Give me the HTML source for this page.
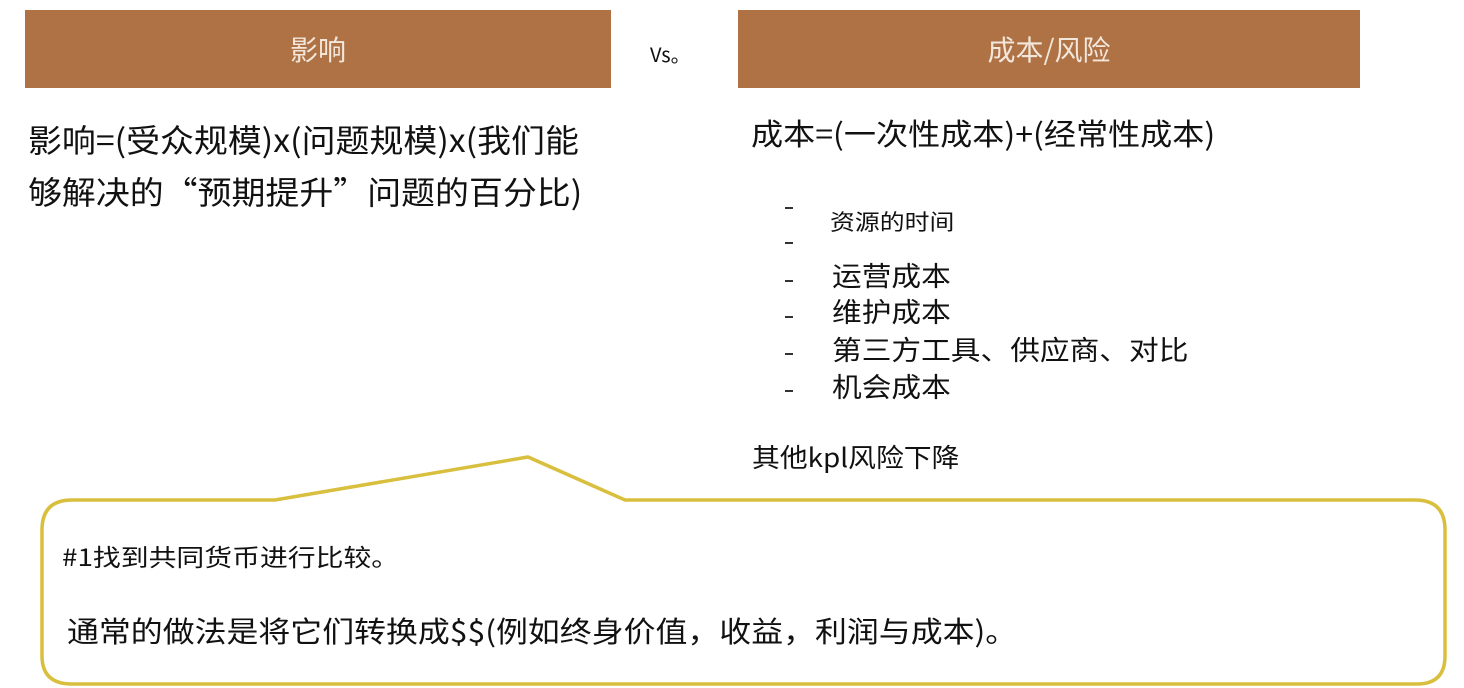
<!DOCTYPE html>
<html><head><meta charset="utf-8"><style>
body{margin:0;width:1464px;height:688px;background:#fff;position:relative;overflow:hidden;font-family:"Noto Sans CJK SC","Liberation Sans",sans-serif;color:#111}
.t{position:absolute;white-space:nowrap;line-height:1.2;transform-origin:left center}
.bar{position:absolute;background:#AE7245;color:#f3e6da;font-size:28px;display:flex;align-items:center;justify-content:center}
.d{position:absolute;width:8px;height:2px;background:#333}
</style></head><body>
<div class="bar" style="left:25px;top:10px;width:586px;height:78px">影响</div>
<div class="bar" style="left:738px;top:10px;width:622px;height:78px">成本/风险</div>
<div class="t" style="left:650px;top:42px;font-size:20px">Vs。</div>
<div class="t" style="left:28px;top:113px;font-size:32px;line-height:52px;transform:scaleX(1.06)">影响=(受众规模)x(问题规模)x(我们能<br>够解决的“预期提升”问题的百分比)</div>
<div class="t" style="left:751px;top:114px;font-size:30px;transform:scaleX(1.07)">成本=(一次性成本)+(经常性成本)</div>
<div class="d" style="left:785px;top:207px"></div>
<div class="d" style="left:785px;top:242px"></div>
<div class="t" style="left:830px;top:208px;font-size:22px;transform:scaleX(1.13)">资源的时间</div>
<div class="d" style="left:785px;top:280px"></div>
<div class="t" style="left:832px;top:259px;font-size:27px;transform:scaleX(1.1)">运营成本</div>
<div class="d" style="left:785px;top:316px"></div>
<div class="t" style="left:832px;top:295px;font-size:27px;transform:scaleX(1.1)">维护成本</div>
<div class="d" style="left:785px;top:353px"></div>
<div class="t" style="left:832px;top:333px;font-size:27px;transform:scaleX(1.1)">第三方工具、供应商、对比</div>
<div class="d" style="left:785px;top:390px"></div>
<div class="t" style="left:832px;top:370px;font-size:27px;transform:scaleX(1.1)">机会成本</div>
<div class="t" style="left:752px;top:441px;font-size:26px;transform:scaleX(1.07)">其他kpl风险下降</div>
<svg style="position:absolute;left:0;top:0" width="1464" height="688">
<path d="M72 500 L275 500 L528 457 L625 500 L1415 500 Q1445 500 1445 530 L1445 656 Q1445 684 1417 684 L72 684 Q42 684 42 656 L42 530 Q42 500 72 500 Z" fill="none" stroke="#D8BF3E" stroke-width="3.5"/>
</svg>
<div class="t" style="left:62px;top:542px;font-size:24px;transform:scaleX(1.16)">#1找到共同货币进行比较。</div>
<div class="t" style="left:67px;top:613px;font-size:29px;transform:scaleX(1.1)">通常的做法是将它们转换成$$(例如终身价值，收益，利润与成本)。</div>
</body></html>
